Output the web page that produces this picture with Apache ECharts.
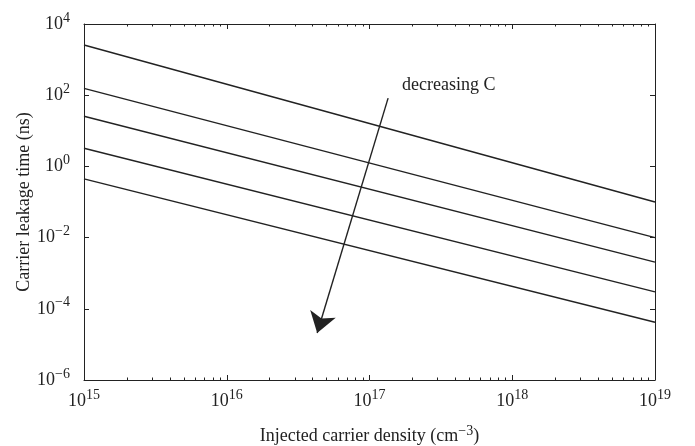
<!DOCTYPE html>
<html>
<head>
<meta charset="utf-8">
<script src="https://cdn.jsdelivr.net/npm/echarts@6/dist/echarts.min.js"></script>
<style>html,body{margin:0;padding:0;background:#fff;}#c{width:695px;height:446px;}</style>
</head>
<body>
<div id="c"></div>
<script>
// Data
const densities = [1e15, 1e19];             // injected carrier density (cm^-3)
const curve1 = [2570, 0.10];                // carrier leakage time (ns)
const curve2 = [155, 0.010];
const curve3 = [25.7, 0.00204];
const curve4 = [3.24, 0.00030];
const curve5 = [0.447, 0.000042];
const curves = [curve1, curve2, curve3, curve4, curve5];
const xMinorTicks = [2e15,3e15,4e15,5e15,6e15,7e15,8e15,9e15,
                     2e16,3e16,4e16,5e16,6e16,7e16,8e16,9e16,
                     2e17,3e17,4e17,5e17,6e17,7e17,8e17,9e17,
                     2e18,3e18,4e18,5e18,6e18,7e18,8e18,9e18];
const arrowStart = [1.35e17, 83];
const arrowEnd = [4.3e16, 2.1e-5];
const annotationText = 'decreasing C';
const xTitle = 'Injected carrier density (cm';
const xTitleSup = '\u22123';
const yTitle = 'Carrier leakage time (ns)';

const FONT = '"Liberation Serif", "Times New Roman", serif';
const INK = '#222';

function powLabel(v) {
  const e = Math.round(Math.log10(v));
  const s = e < 0 ? '\u2212' + (-e) : String(e);
  return '{b|10}{s|' + s + '}';
}
const richLabel = {
  b: { fontSize: 18, fontFamily: FONT, color: INK, verticalAlign: 'middle', lineHeight: 26 },
  s: { fontSize: 14, fontFamily: FONT, color: INK, verticalAlign: 'top', lineHeight: 26 }
};

const chart = echarts.init(document.getElementById('c'), null, { renderer: 'canvas' });

const lineAxis = { show: true, lineStyle: { color: INK, width: 1 } };
const baseLogX = { type: 'log', logBase: 10, min: 1e15, max: 1e19, splitLine: { show: false } };
const baseLogY = { type: 'log', logBase: 10, min: 1e-6, max: 1e4, interval: 2, splitLine: { show: false } };

const series = curves.map((c, i) => ({
  type: 'line',
  data: densities.map((x, j) => [x, c[j]]),
  showSymbol: false,
  symbol: 'none',
  lineStyle: { color: INK, width: 1.4 },
  silent: true,
  markLine: i === 0 ? {
    silent: true,
    symbol: ['none', 'arrow'],
    symbolSize: 20,
    label: { show: false },
    lineStyle: { color: INK, width: 1.4, type: 'solid' },
    itemStyle: { color: INK },
    data: [[{ coord: arrowStart }, { coord: arrowEnd }]]
  } : undefined
}));

chart.setOption({
  animation: false,
  backgroundColor: '#fff',
  grid: { left: 84, right: 40, top: 24, bottom: 66, containLabel: false, outerBoundsMode: 'none' },
  xAxis: [
    Object.assign({}, baseLogX, {
      position: 'bottom',
      axisLine: lineAxis,
      axisTick: { show: true, inside: true, length: 5, lineStyle: { color: INK } },
      axisLabel: { formatter: powLabel, rich: richLabel, margin: 8 },
      name: '{a|' + xTitle + '}{s|' + xTitleSup + '}{a|)}',
      nameLocation: 'middle',
      nameGap: 44,
      nameMoveOverlap: false,
      nameTextStyle: {
        rich: {
          a: { fontSize: 18, fontFamily: FONT, color: INK, verticalAlign: 'middle', lineHeight: 24 },
          s: { fontSize: 14, fontFamily: FONT, color: INK, verticalAlign: 'top', lineHeight: 24 }
        }
      }
    }),
    Object.assign({}, baseLogX, {
      position: 'bottom',
      axisLine: { show: false },
      axisTick: { show: true, inside: true, length: 2.5, customValues: xMinorTicks, lineStyle: { color: INK } },
      axisLabel: { show: false }
    }),
    Object.assign({}, baseLogX, {
      position: 'top',
      axisLine: lineAxis,
      axisTick: { show: true, inside: true, length: 5, lineStyle: { color: INK } },
      axisLabel: { show: false }
    }),
    Object.assign({}, baseLogX, {
      position: 'top',
      axisLine: { show: false },
      axisTick: { show: true, inside: true, length: 2.5, customValues: xMinorTicks, lineStyle: { color: INK } },
      axisLabel: { show: false }
    })
  ],
  yAxis: [
    Object.assign({}, baseLogY, {
      position: 'left',
      axisLine: lineAxis,
      axisTick: { show: true, inside: true, length: 5, lineStyle: { color: INK } },
      axisLabel: { formatter: powLabel, rich: richLabel, margin: 14 },
      name: yTitle,
      nameLocation: 'middle',
      nameGap: 51,
      nameMoveOverlap: false,
      nameTextStyle: { fontSize: 18, fontFamily: FONT, color: INK, lineHeight: 18 }
    }),
    Object.assign({}, baseLogY, {
      position: 'right',
      axisLine: lineAxis,
      axisTick: { show: true, inside: true, length: 5, lineStyle: { color: INK } },
      axisLabel: { show: false }
    })
  ],
  graphic: [{
    type: 'text',
    left: 402,
    top: 76,
    silent: true,
    style: { text: annotationText, font: '18px ' + FONT, fill: INK }
  }],
  series: series
});
</script>
</body>
</html>
